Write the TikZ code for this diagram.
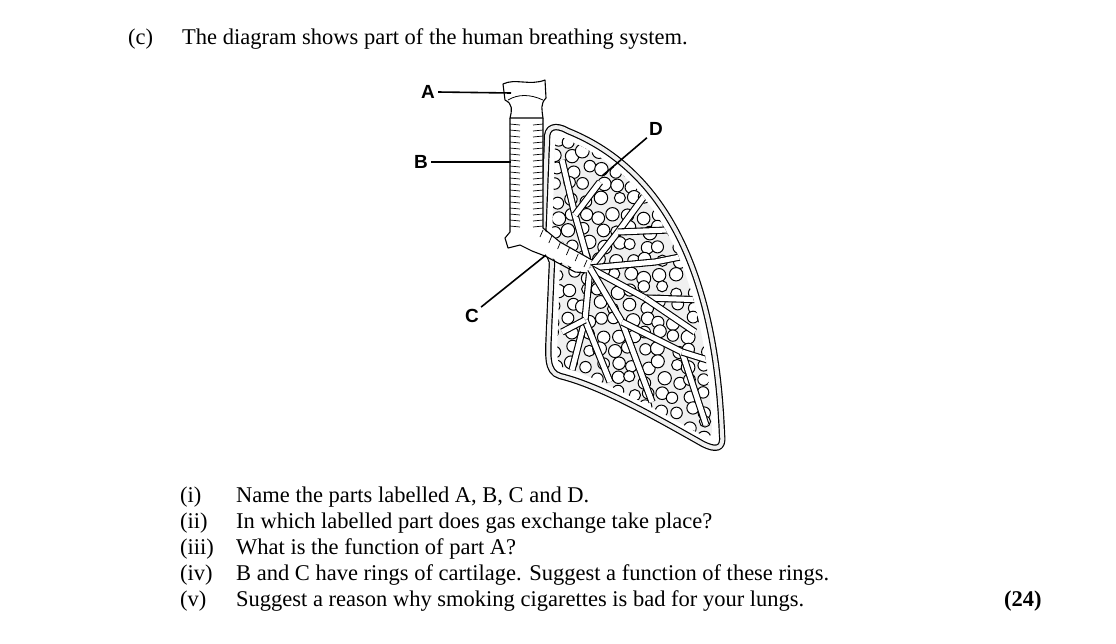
\documentclass[tikz,border=0pt]{standalone}
\usepackage{fontspec}
\setmainfont{Liberation Serif}
\newfontfamily\labelfont{Liberation Sans}
\usetikzlibrary{calc}
\tikzset{
    qtext/.style={anchor=base west, inner sep=0pt, font=\fontsize{22.5}{26}\selectfont},
    partlabel/.style={inner sep=0pt, font=\labelfont\bfseries\fontsize{19}{22}\selectfont},
    pointer/.style={line width=1.6pt},
    airway/.style={line width=1.1pt, double=white, double distance=5pt},
    alveolus/.style={draw, fill=white, line width=1pt}
}
\begin{document}
\begin{tikzpicture}[x=1pt, y=-1pt, line join=round]
\useasboundingbox (0,0) rectangle (1116,643);

% heading
\node[qtext] (c) at (128,44) {(c)};
\node[qtext] (title) at (182,44) {The diagram shows part of the human breathing system.};

% lung outline
\def\lungpath{(547,140) .. controls (546,126) and (556,124) .. (568,131)
    .. controls (670,172) and (716,282) .. (722,435)
    .. controls (724,450) and (715,450) .. (703,444)
    .. controls (650,414) and (600,386) .. (560,376)
    .. controls (546,372) and (548,355) .. (549,330)
    -- (552,262) -- (543,240) -- cycle}
\fill[white] \lungpath;
\begin{scope}
  \clip (555,148) .. controls (555,136) and (562,136) .. (570,141)
    .. controls (664,182) and (706,285) .. (712,430)
    .. controls (712,438) and (708,438) .. (700,434)
    .. controls (648,405) and (600,378) .. (562,367)
    .. controls (556,364) and (557,350) .. (558,330)
    -- (560,262) -- (552,240) -- cycle;
  \fill[gray!12] (540,120) rectangle (730,460);
  \pgfmathsetseed{11}
  \foreach \gx in {556,571,...,726}{
    \foreach \gy in {140,155,...,450}{
      \pgfmathsetmacro{\px}{\gx+rand*4}
      \pgfmathsetmacro{\py}{\gy+rand*4}
      \pgfmathsetmacro{\pr}{5.5+rnd*1.5}
      \draw[alveolus] (\px,\py) circle[radius=\pr];
    }
  }
  % bronchioles
  \draw[airway] (590,268) -- (575,215) -- (562,160);
  \draw[airway] (575,215) -- (600,182);
  \draw[airway] (590,268) -- (618,232) -- (645,195);
  \draw[airway] (618,232) -- (668,230);
  \draw[airway] (590,268) -- (655,262) -- (705,252);
  \draw[airway] (590,268) -- (645,298) -- (708,300);
  \draw[airway] (590,268) -- (585,320) -- (572,370);
  \draw[airway] (585,320) -- (610,382);
  \draw[airway] (590,268) -- (622,322) -- (652,402);
  \draw[airway] (622,322) -- (682,352) -- (706,425);
  \draw[airway] (682,352) -- (714,362);
  \draw[airway] (645,298) -- (695,332);
  \draw[airway] (585,320) -- (562,332);
\end{scope}
\draw[line width=1.2pt, double=gray!12, double distance=4pt] \lungpath;

% trachea
\fill[white] (510,118) -- (543,118) -- (543,230) -- (592,260) -- (586,274) -- (550,257) -- (515,250) -- (506,240) -- (510,232) -- cycle;
\draw[line width=1.1pt] (510,118) -- (510,232) -- (505,238) -- (508,248) -- (520,245) -- (532,251) -- (545,256) -- (575,272) -- (587,273);
\draw[line width=1.1pt] (543,118) -- (543,228) -- (560,242) -- (592,260);
\foreach \yy in {124,130,...,226}{
  \draw[line width=0.7pt] (510,\yy) -- (520,\yy+1);
  \draw[line width=0.7pt] (543,\yy) -- (533,\yy+1);
}
\foreach \t in {0,0.2,...,1}{
  \draw[line width=0.7pt] ($(543,230)!\t!(587,260)$) -- ++(-3,7);
}

% larynx
\draw[line width=1.1pt, fill=white] (503,84) .. controls (515,78) and (530,86) .. (545,80)
  -- (546,98) .. controls (540,104) and (542,110) .. (543,118) -- (510,118)
  .. controls (512,110) and (513,104) .. (505,100) -- cycle;
\draw[line width=0.8pt] (508,100) .. controls (518,94) and (530,94) .. (543,100);

% labels
\node[partlabel] (A) at (428,92) {A};
\node[partlabel] (B) at (421,162) {B};
\node[partlabel] (C) at (472,316) {C};
\node[partlabel] (D) at (656,129) {D};
\coordinate (Aend) at (511,93);
\coordinate (Bend) at (511,162);
\coordinate (Cend) at (546,255);
\coordinate (Dend) at (602,176);
\draw[pointer] (A.east) ++(3,0) -- (Aend);
\draw[pointer] (B.east) ++(3,0) -- (Bend);
\draw[pointer] (C.north east) ++(2,-2) -- (Cend);
\draw[pointer] (D.south west) ++(-2,2) -- (Dend);

% questions
\node[qtext] (q1) at (180,502) {(i)};
\node[qtext] (q2) at (180,528) {(ii)};
\node[qtext] (q3) at (180,554) {(iii)};
\node[qtext] (q4) at (180,580) {(iv)};
\node[qtext] (q5) at (180,606) {(v)};
\node[qtext] (t1) at (236,502) {Name the parts labelled A, B, C and D.};
\node[qtext] (t2) at (236,528) {In which labelled part does gas exchange take place?};
\node[qtext] (t3) at (236,554) {What is the function of part A?};
\node[qtext] (t4) at (236,580) {B and C have rings of cartilage. Suggest a function of these rings.};
\node[qtext] (t5) at (236,606) {Suggest a reason why smoking cigarettes is bad for your lungs.};
\node[qtext, font=\bfseries\fontsize{22.5}{26}\selectfont] (marks) at (1004,606) {(24)};
\end{tikzpicture}
\end{document}
